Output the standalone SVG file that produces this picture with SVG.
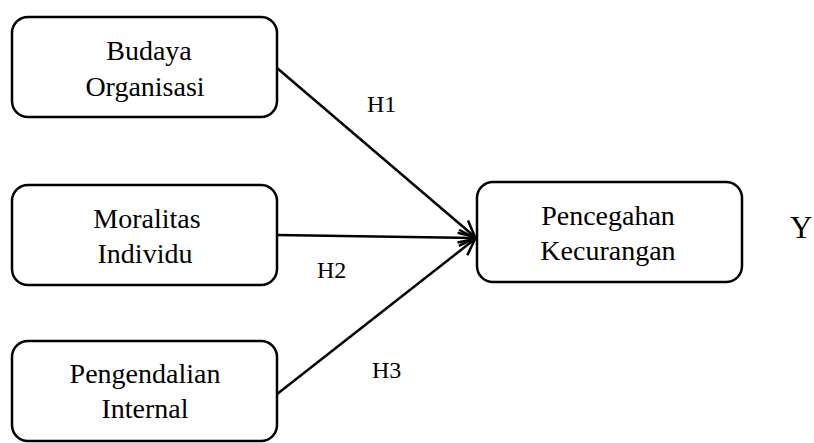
<svg xmlns="http://www.w3.org/2000/svg" width="814" height="443" viewBox="0 0 814 443">
<defs>
<style>
.box{fill:#fff;stroke:#000;stroke-width:2.5}
.t{font-family:'Liberation Serif','Times New Roman',serif;font-size:28px;fill:#000;text-anchor:middle}
.l{font-family:'Liberation Serif','Times New Roman',serif;font-size:24px;fill:#000}
.c{fill:none;stroke:#000;stroke-width:2.5}
</style>
<marker id="ah" viewBox="0 0 20 20" refX="18" refY="10" markerWidth="20" markerHeight="20" markerUnits="userSpaceOnUse" orient="auto">
<path d="M2,2 L18,10 L2,18" fill="none" stroke="#000" stroke-width="2.5"/>
</marker>
</defs>
<rect width="814" height="443" fill="#fff"/>
<g id="connectors">
<line class="c" x1="277" y1="68" x2="475" y2="237" marker-end="url(#ah)"/>
<line class="c" x1="277" y1="235" x2="475" y2="238" marker-end="url(#ah)"/>
<line class="c" x1="272" y1="398" x2="475" y2="239" marker-end="url(#ah)"/>
</g>
<g id="budaya">
<rect class="box" x="12" y="17" width="265" height="100" rx="16"/>
<text class="t" x="149" y="60">Budaya</text>
<text class="t" x="145" y="96">Organisasi</text>
</g>
<g id="moralitas">
<rect class="box" x="12" y="185" width="265" height="100" rx="16"/>
<text class="t" x="147" y="228">Moralitas</text>
<text class="t" x="145" y="263">Individu</text>
</g>
<g id="pengendalian">
<rect class="box" x="12" y="341" width="265" height="100" rx="16"/>
<text class="t" x="145" y="383">Pengendalian</text>
<text class="t" x="145" y="418">Internal</text>
</g>
<g id="pencegahan">
<rect class="box" x="477" y="182" width="265" height="100" rx="16"/>
<text class="t" x="608" y="225">Pencegahan</text>
<text class="t" x="608" y="260">Kecurangan</text>
</g>
<g id="labels">
<text class="l" x="367" y="112">H1</text>
<text class="l" x="317" y="278">H2</text>
<text class="l" x="372" y="378">H3</text>
<text class="l" x="790" y="238" style="font-size:31px">Y</text>
</g>
</svg>
